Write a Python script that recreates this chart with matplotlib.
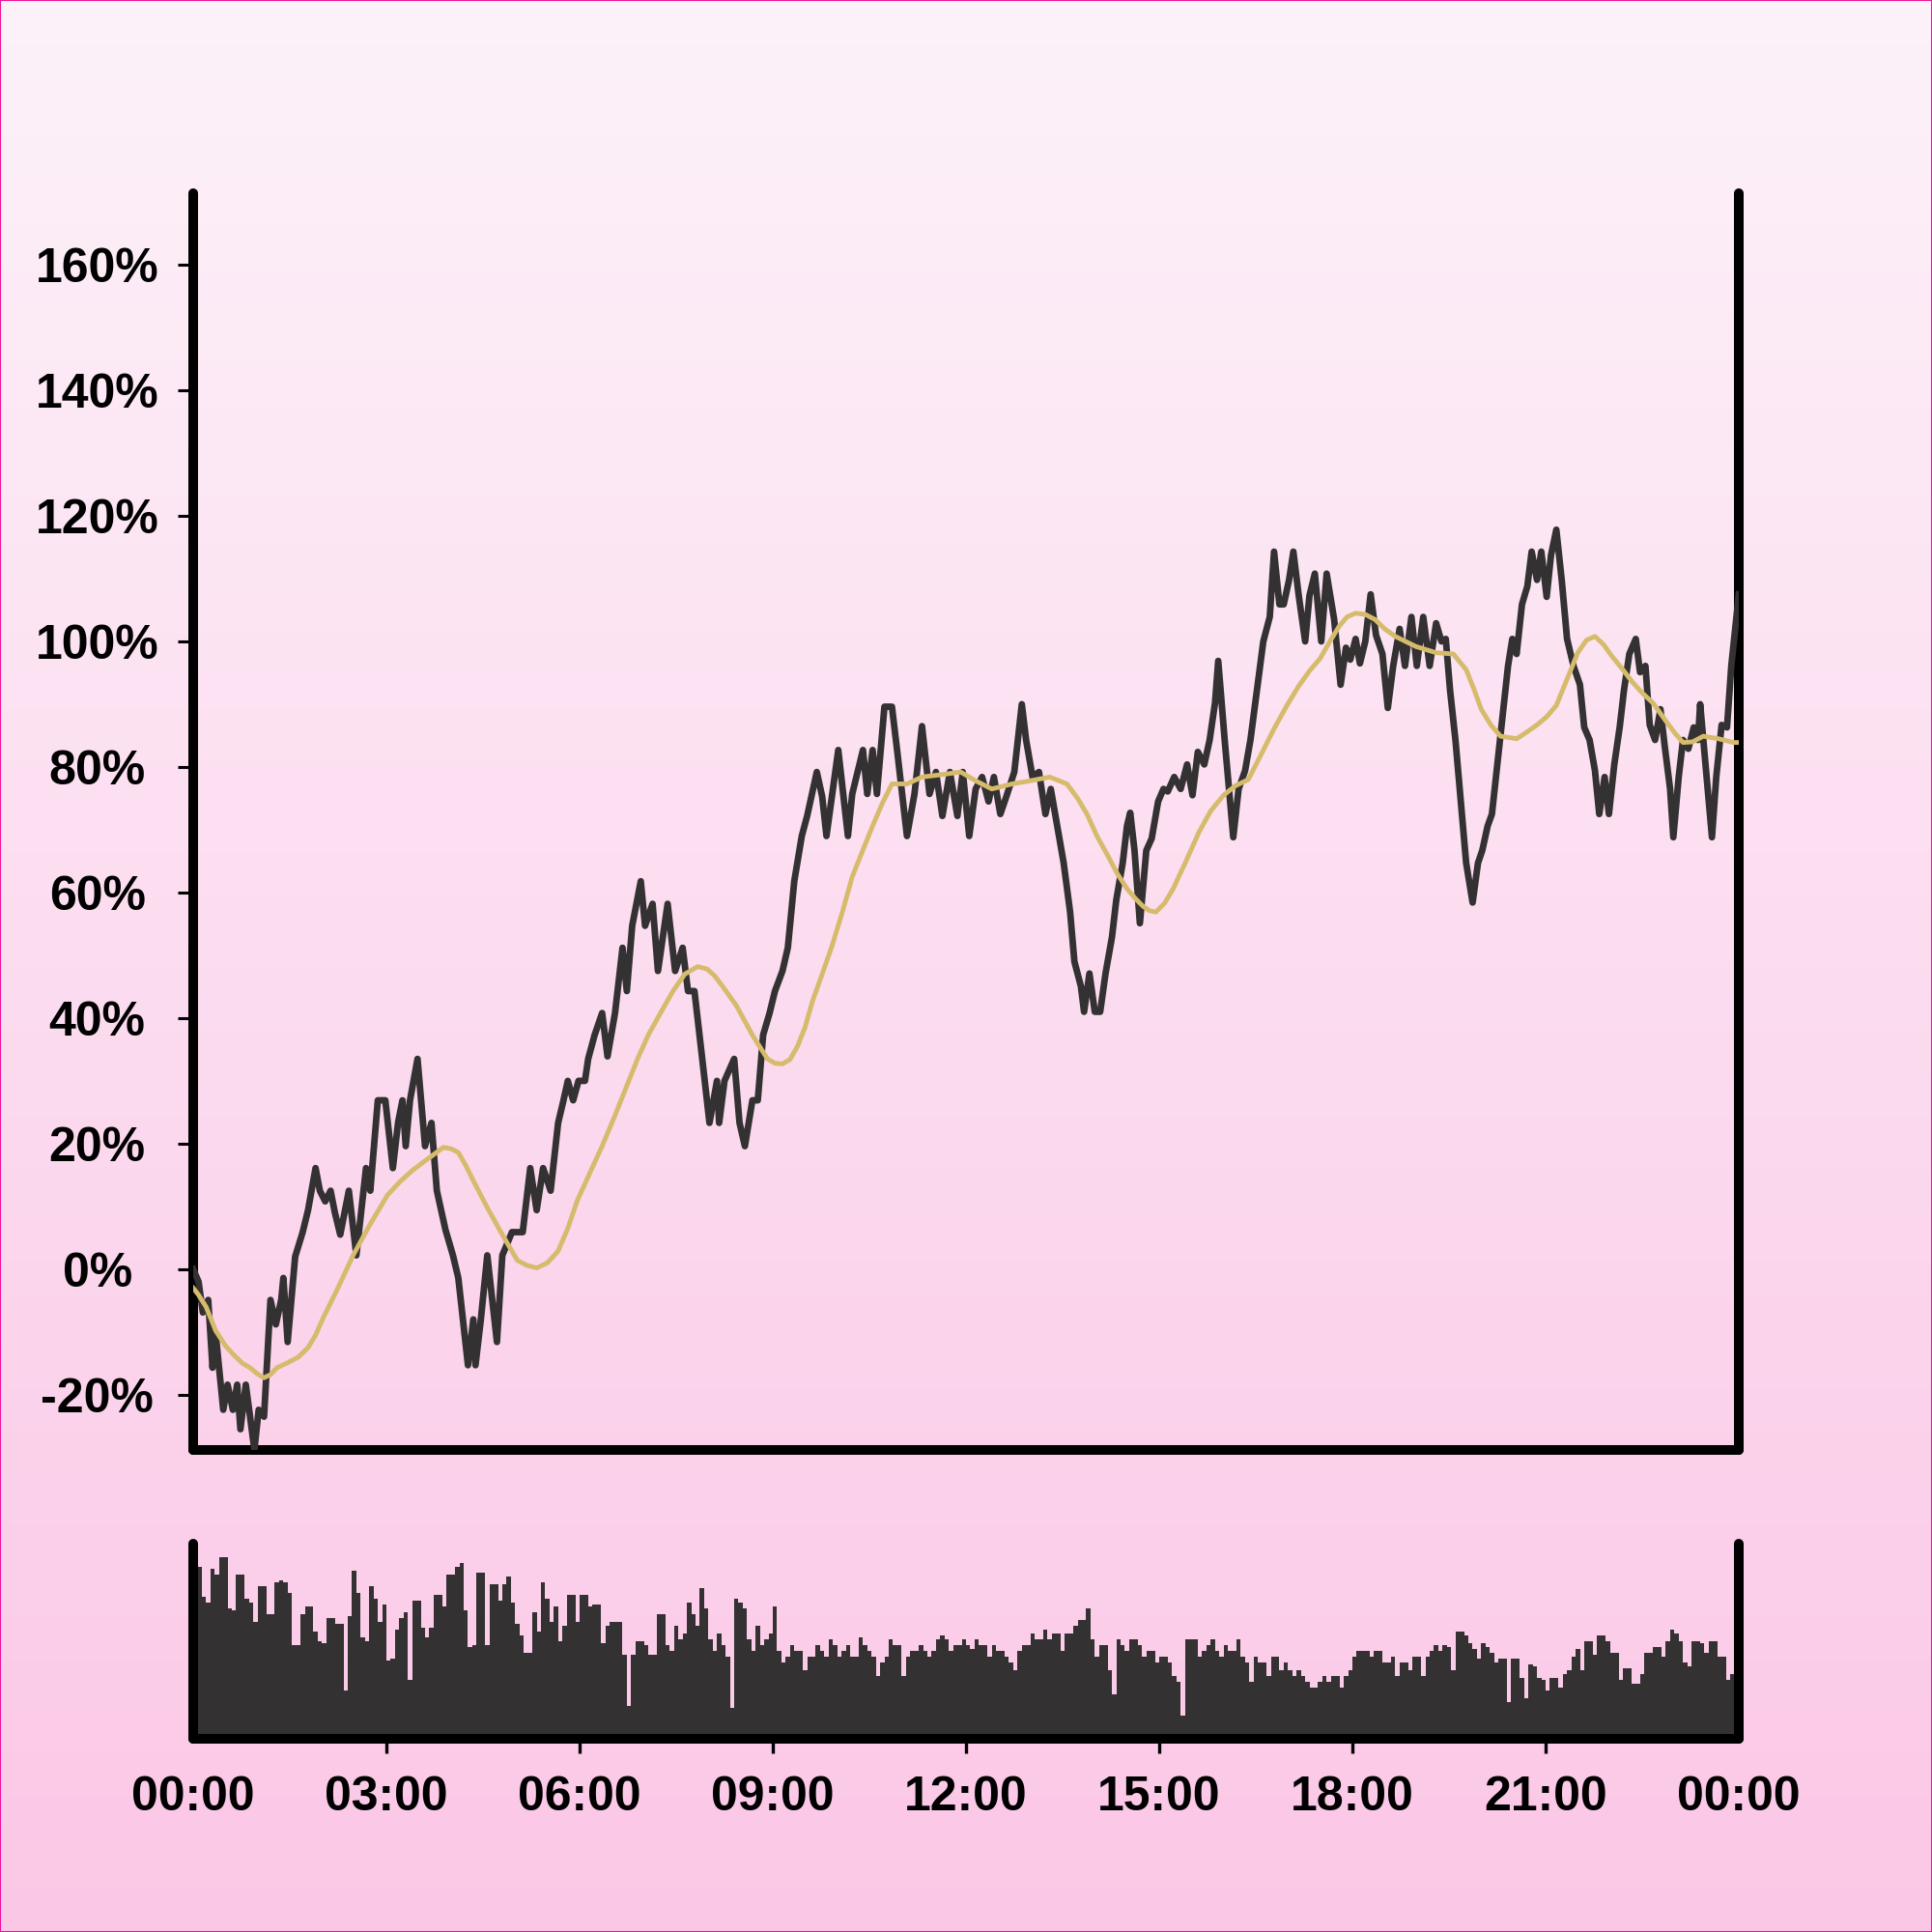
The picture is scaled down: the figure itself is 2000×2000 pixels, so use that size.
import numpy as np
import matplotlib
matplotlib.use('Agg')
import matplotlib.pyplot as plt
from matplotlib.patches import Rectangle
from matplotlib.colors import LinearSegmentedColormap

# ---------------- data ----------------
# price change (% vs. start), minutes after midnight
black_minutes = [0,5,9,14,18,21,28,32,37,41,
                 44,49,53,57,61,66,72,77,82,84,
                 88,95,102,107,114,118,123,128,132,137,
                 145,152,161,165,172,179,186,191,195,198,
                 202,209,216,222,227,235,242,247,256,261,
                 263,268,274,283,288,297,307,314,320,326,
                 333,340,345,349,354,359,365,368,374,381,
                 386,393,400,404,409,417,421,428,433,442,
                 449,456,461,467,474,481,488,490,495,504,
                 509,514,521,526,531,537,542,549,554,560,
                 567,572,581,586,590,601,610,614,624,628,
                 633,637,644,651,656,665,672,679,686,692,
                 698,705,712,717,723,729,735,741,746,752,
                 758,765,772,776,782,788,794,799,805,811,
                 817,821,827,830,835,840,845,850,856,860,
                 866,870,873,877,882,888,893,899,904,908,
                 914,920,926,931,936,942,947,952,955,961,
                 969,974,980,985,991,997,1003,1007,1012,1016,
                 1021,1025,1030,1036,1040,1045,1051,1056,1063,1069,
                 1074,1078,1083,1087,1092,1097,1102,1108,1113,1118,
                 1124,1129,1135,1140,1146,1152,1158,1163,1167,1171,
                 1176,1181,1186,1192,1197,1201,1206,1210,1215,1221,
                 1225,1229,1233,1238,1243,1247,1252,1256,1261,1265,
                 1270,1275,1280,1286,1292,1296,1301,1306,1310,1315,
                 1319,1324,1329,1333,1338,1344,1348,1353,1357,1362,
                 1367,1371,1376,1379,1384,1388,1393,1398,1402,1404,
                 1409,1415,1419,1424,1429,1433,1440]
black_pct = [0, -2.0, -6.9, -4.9, -15.7, -10.4, -22.4, -18.4, -22.4, -18.4,
             -25.5, -18.4, -23.5, -28.8, -22.4, -23.5, -4.9, -8.8, -4.9, -1.4,
             -11.6, 2.0, 5.9, 9.4, 16.1, 12.5, 10.8, 12.5, 9.0, 5.5,
             12.5, 2.2, 16.1, 12.5, 26.9, 26.9, 16.1, 23.5, 26.9, 19.6,
             26.9, 33.5, 19.6, 23.3, 12.5, 6.3, 2.2, -1.4, -15.3, -8.0,
             -15.3, -8.0, 2.2, -11.6, 2.2, 5.9, 5.9, 16.1, 9.4, 16.1,
             12.5, 23.3, 26.9, 30.0, 26.9, 30.0, 30.0, 33.5, 37.3, 40.8,
             33.9, 40.8, 51.2, 44.3, 54.7, 61.8, 54.7, 58.2, 47.5, 58.2,
             47.5, 51.2, 44.3, 44.3, 33.9, 23.3, 30.0, 23.3, 30.0, 33.5,
             23.3, 19.6, 26.9, 26.9, 37.3, 40.8, 44.3, 47.5, 51.2, 61.8,
             69.0, 72.2, 79.2, 75.3, 69.0, 82.7, 69.0, 75.7, 82.7, 75.7,
             82.7, 75.7, 89.6, 89.6, 82.4, 69.0, 75.7, 86.5, 75.7, 79.2,
             72.2, 79.2, 72.2, 79.2, 69.0, 76.5, 78.4, 74.5, 78.4, 72.5,
             75.5, 79.2, 90.0, 84.3, 78.4, 79.2, 72.5, 76.5, 70.6, 64.7,
             56.9, 49.0, 45.1, 41.0, 47.1, 41.0, 41.0, 47.1, 52.9, 58.8,
             64.7, 70.6, 72.7, 66.7, 55.1, 66.7, 68.6, 74.5, 76.5, 76.1,
             78.4, 76.5, 80.4, 75.5, 82.4, 80.4, 84.3, 90.2, 96.9, 84.3,
             68.8, 76.5, 79.4, 84.3, 92.2, 100.0, 103.9, 114.3, 105.9, 105.9,
             109.8, 114.3, 107.3, 100.0, 107.3, 110.8, 100.0, 110.8, 103.5, 93.1,
             99.0, 97.1, 100.4, 96.5, 100.0, 107.5, 101.0, 98.0, 89.4, 96.1,
             102.0, 96.1, 103.9, 96.1, 103.9, 96.1, 102.9, 100.0, 100.4, 92.2,
             84.3, 74.5, 64.7, 58.4, 64.7, 66.7, 70.6, 72.5, 80.4, 89.8,
             96.1, 100.4, 98.0, 105.9, 108.8, 114.3, 109.8, 114.3, 107.1, 113.7,
             117.8, 109.8, 100.4, 96.1, 93.1, 86.3, 84.3, 79.4, 72.5, 78.4,
             72.5, 80.4, 86.3, 92.2, 98.0, 100.4, 95.1, 96.1, 86.7, 84.3,
             89.2, 83.3, 76.5, 68.8, 78.4, 84.3, 82.9, 86.3, 84.3, 90.0,
             80.4, 68.8, 78.4, 86.7, 86.3, 96.1, 107.5]

# moving average (%)
ma_minutes = [0,5,12,21,30,38,46,53,60,66,
              72,78,88,98,107,114,121,134,149,164,
              181,193,204,214,222,233,240,247,254,261,
              274,288,302,311,320,330,340,349,358,370,
              381,393,404,414,424,436,447,458,470,479,
              486,493,506,521,535,542,549,556,563,570,
              577,586,595,605,614,624,633,642,651,665,
              679,698,715,729,744,763,780,798,814,824,
              833,842,852,861,870,878,885,891,897,905,
              913,925,937,948,960,971,983,995,1007,1019,
              1030,1040,1050,1059,1068,1075,1083,1092,1101,1110,
              1120,1139,1158,1174,1186,1193,1200,1209,1218,1233,
              1242,1252,1261,1270,1280,1290,1298,1306,1314,1322,
              1332,1341,1350,1360,1373,1380,1388,1397,1407,1421,
              1435,1440]
ma_pct = [-3.0,-4.1,-6.0,-9.8,-12.2,-13.7,-15.0,-15.7,-16.7,-17.3,
          -16.8,-15.7,-14.9,-14.0,-12.5,-10.5,-7.8,-3.3,2.2,6.9,
          11.8,14.0,15.7,17.0,18.0,19.4,19.2,18.6,16.5,14.1,
          9.8,5.5,1.4,0.6,0.2,1.0,2.9,6.5,11.0,15.5,
          19.6,24.5,29.2,33.5,37.3,41.0,44.3,47.0,48.2,47.8,
          46.7,45.1,42.0,37.3,33.5,32.8,32.7,33.4,35.5,38.5,
          42.7,47.0,51.4,57.0,62.5,66.8,70.6,74.2,77.3,77.3,
          78.4,78.8,79.2,77.8,76.5,77.3,77.8,78.4,77.3,75.0,
          72.4,69.0,65.9,63.0,60.6,59.0,57.8,57.1,56.9,58.3,
          60.6,65.0,69.6,73.0,75.5,77.0,78.0,82.0,86.1,89.8,
          92.9,95.3,97.3,100.0,102.5,103.9,104.5,104.3,103.5,102.0,
          100.8,99.2,98.2,98.0,95.5,92.5,89.2,86.7,84.9,84.5,
          85.5,86.7,88.0,89.8,94.0,98.2,100.2,100.8,99.5,97.6,
          95.5,93.5,91.8,90.2,87.1,85.5,83.9,84.0,84.9,84.5,
          83.9,83.9]

# volume per 4-minute interval (relative units)
volume = [89,88,73,70,87,84,93,93,67,66,
          84,84,72,70,60,78,78,64,64,80,
          81,80,75,48,48,64,68,68,55,50,
          49,62,62,59,59,25,63,86,75,52,
          50,78,72,60,69,40,41,56,62,65,
          30,71,71,57,52,57,74,74,68,84,
          84,88,90,66,47,48,85,85,48,79,
          79,71,79,83,70,59,53,44,44,65,
          55,80,72,60,68,50,58,74,74,60,
          74,74,68,69,69,49,58,60,60,60,
          43,17,43,50,50,48,43,43,
          64,64,48,45,58,51,54,70,64,58,
          77,67,51,45,54,48,42,16,72,70,
          67,51,45,58,48,51,54,68,45,39,
          42,48,45,45,35,42,42,48,45,42,
          51,48,42,45,48,42,42,52,48,45,
          42,32,39,42,51,48,48,32,42,45,
          45,48,45,42,45,51,53,51,45,48,
          48,51,48,46,51,48,48,42,48,45,
          45,42,39,35,45,48,48,54,51,51,
          56,51,54,54,45,54,54,58,61,61,
          67,51,42,48,48,35,23,51,48,45,
          51,51,48,42,45,45,39,42,42,39,
          32,29,12,51,51,51,42,45,48,51,
          45,42,48,45,45,51,42,39,29,42,
          39,39,32,42,42,35,39,35,32,35,
          32,29,26,26,29,32,29,32,32,26,
          32,35,42,45,45,45,42,45,45,39,
          39,42,32,39,39,35,42,42,32,42,
          45,48,45,48,
          47,35,55,55,53,49,46,41,49,47,
          44,39,41,41,19,41,41,31,21,38,
          37,31,30,25,31,31,26,33,35,42,
          46,35,50,50,43,53,53,50,44,44,
          30,36,36,28,28,33,44,44,47,47,
          42,50,56,54,50,39,37,50,50,49,
          44,50,50,42,42,30,33,33]
volume_minutes = np.arange(len(volume)) * 4

y_ticks = [-20, 0, 20, 40, 60, 80, 100, 120, 140, 160]
y_labels = [f"{v}%" for v in y_ticks]
x_ticks = [0, 180, 360, 540, 720, 900, 1080, 1260, 1440]
x_labels = ["00:00", "03:00", "06:00", "09:00", "12:00", "15:00", "18:00", "21:00", "00:00"]

# ---------------- style ----------------
plt.rcParams['font.family'] = ['Liberation Sans', 'DejaVu Sans']
plt.rcParams['font.weight'] = 'bold'

DARK = '#333132'
GOLD = '#d5bb6b'

fig = plt.figure(figsize=(20, 20), dpi=100)

# gradient background
bg = fig.add_axes([0, 0, 1, 1], zorder=-10)
grad = np.linspace(0, 1, 256).reshape(-1, 1)
cmap = LinearSegmentedColormap.from_list('bg', ['#fdf2f9', '#fbc7e6'])
bg.imshow(grad, aspect='auto', cmap=cmap, extent=[0, 1, 0, 1], origin='upper')
bg.axis('off')


def style_spines(a):
    a.patch.set_alpha(0)
    a.spines['top'].set_visible(False)
    for s in ('left', 'right', 'bottom'):
        sp = a.spines[s]
        sp.set_linewidth(7.2)
        sp.set_color('black')
        sp.set_capstyle('round')


# main price axes
ax = fig.add_axes([0.1, 0.2495, 0.8, 0.6505])
style_spines(ax)
ax.plot(black_minutes, black_pct, color=DARK, lw=4.9, zorder=3)
ax.plot(ma_minutes, ma_pct, color=GOLD, lw=3.5, zorder=4)
ax.set_xlim(0, 1440)
ax.set_ylim(-28.8, 171.4)
ax.set_xticks([])
ax.set_yticks(y_ticks)
ax.set_yticklabels(y_labels)
ax.tick_params(axis='y', length=11.5, width=2.2, color='black', pad=60,
               labelsize=36, labelcolor='black')
for lab in ax.get_yticklabels():
    lab.set_horizontalalignment('center')
    lab.set_fontweight('bold')

# volume axes
bx = fig.add_axes([0.1, 0.1, 0.8, 0.101])
style_spines(bx)
bx.bar(volume_minutes, volume, width=4, align='edge', color=DARK, linewidth=0)
bx.set_xlim(0, 1440)
bx.set_ylim(0, 100)
bx.set_yticks([])
bx.set_xticks(x_ticks)
bx.set_xticklabels(x_labels)
bx.tick_params(axis='x', length=11, width=2.4, color='black', pad=16,
               labelsize=36, labelcolor='black')
for lab in bx.get_xticklabels():
    lab.set_fontweight('bold')
ticks = bx.xaxis.get_major_ticks()
ticks[0].tick1line.set_visible(False)
ticks[-1].tick1line.set_visible(False)

# thin magenta border
fig.patches.append(Rectangle((0, 0), 1, 1, transform=fig.transFigure, fill=False,
                             edgecolor='#f0149c', lw=1.5, zorder=20))

fig.savefig('out.png', dpi=100)
